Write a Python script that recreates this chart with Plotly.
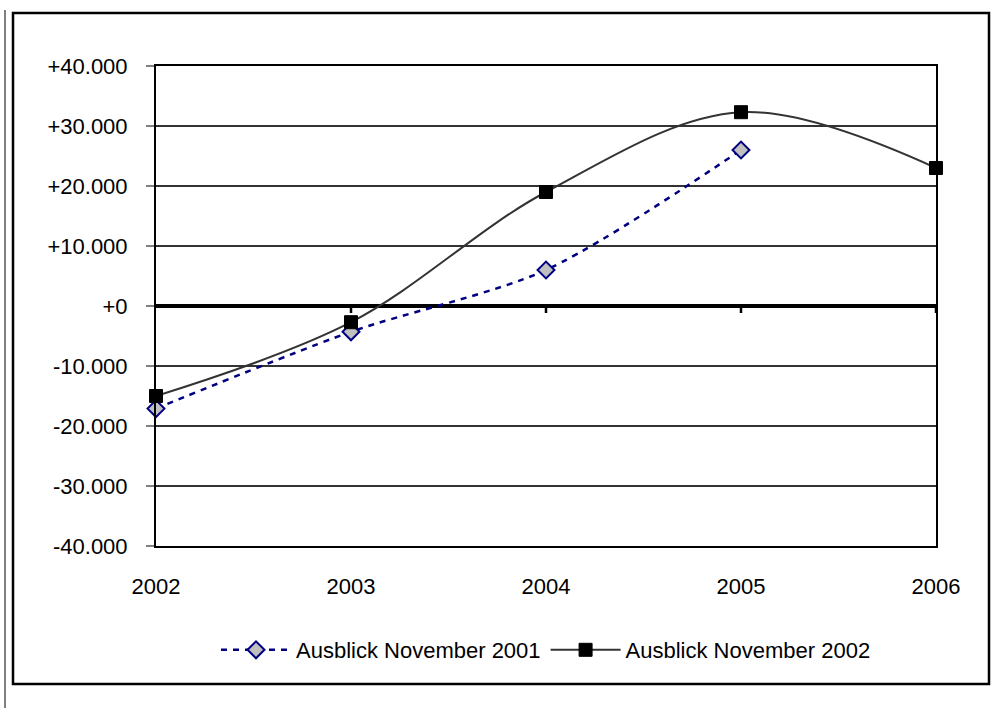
import plotly.graph_objects as go

# Forecast data (balance, in units)
years = [2002, 2003, 2004, 2005, 2006]
outlook_2001_years = [2002, 2003, 2004, 2005]
outlook_2001 = [-17100, -4300, 6000, 26000]
outlook_2002 = [-15000, -2700, 19000, 32300, 23000]

y_tick_values = [40000, 30000, 20000, 10000, 0, -10000, -20000, -30000, -40000]
y_tick_labels = ["+40.000", "+30.000", "+20.000", "+10.000", "+0",
                 "-10.000", "-20.000", "-30.000", "-40.000"]
series_names = ["Ausblick November 2001", "Ausblick November 2002"]

W, H = 992, 708
ML, MR, MT, MB = 156, 56, 66, 162
PW, PH = W - ML - MR, H - MT - MB


def px_x(p):
    return (p - ML) / PW


def px_y(p):
    return (H - MB - p) / PH


FONT = dict(family="Liberation Sans, Arial, sans-serif", size=22, color="black")

fig = go.Figure()

fig.add_trace(go.Scatter(
    x=outlook_2001_years, y=outlook_2001, name=series_names[0],
    mode="lines+markers", cliponaxis=False,
    line=dict(color="#000080", width=2.5, dash="6px,6px", shape="spline", smoothing=0.8),
    marker=dict(symbol="diamond", size=13, color="#C0C0C0",
                line=dict(color="#000080", width=2)),
))
fig.add_trace(go.Scatter(
    x=years, y=outlook_2002, name=series_names[1],
    mode="lines+markers", cliponaxis=False,
    line=dict(color="#333333", width=2, shape="spline", smoothing=1),
    marker=dict(symbol="square", size=13, color="black",
                line=dict(color="black", width=1)),
))

shapes = []
# small ticks below the zero line at each year
for yr in years[1:]:
    shapes.append(dict(type="line", xref="x", yref="y", ysizemode="pixel", yanchor=0,
                       x0=yr, x1=yr, y0=0, y1=-7, line=dict(color="black", width=2.5)))
# chart frame
shapes.append(dict(type="rect", xref="paper", yref="paper",
                   x0=px_x(13), x1=px_x(989), y0=px_y(13), y1=px_y(684),
                   line=dict(color="black", width=2.5)))
shapes.append(dict(type="line", xref="paper", yref="paper",
                   x0=px_x(5), x1=px_x(5), y0=px_y(10), y1=px_y(708),
                   line=dict(color="black", width=1)))

fig.update_layout(
    width=W, height=H,
    margin=dict(l=ML, r=MR, t=MT, b=MB),
    paper_bgcolor="white", plot_bgcolor="white",
    font=FONT,
    showlegend=True,
    legend=dict(orientation="h", x=0.5, xanchor="center", y=px_y(650), yanchor="middle",
                font=FONT, itemwidth=70, bgcolor="rgba(0,0,0,0)"),
    shapes=shapes,
    xaxis=dict(range=[2002, 2006], tickvals=years, ticktext=[str(y) for y in years],
               showgrid=False, zeroline=False, showline=True, linecolor="black",
               linewidth=2, mirror=True, ticks="", ticklabelstandoff=20,
               tickfont=FONT),
    yaxis=dict(range=[-40000, 40000], tickvals=y_tick_values, ticktext=y_tick_labels,
               showgrid=True, gridcolor="#333333", gridwidth=1.5,
               zeroline=True, zerolinecolor="black", zerolinewidth=3.5,
               showline=True, linecolor="black", linewidth=2, mirror=True,
               ticks="outside", ticklen=8, tickwidth=2, tickcolor="#808080",
               ticklabelstandoff=14, tickfont=FONT),
)

fig.write_html("out.html")
